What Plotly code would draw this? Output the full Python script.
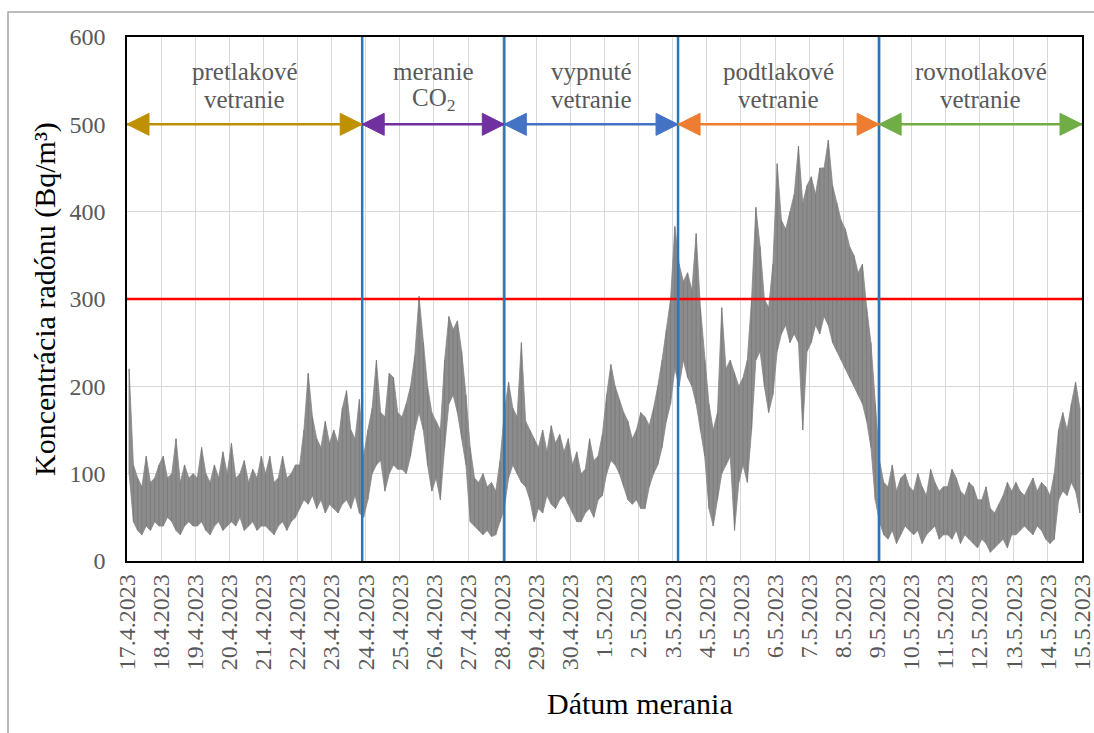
import plotly.graph_objects as go
import pandas as pd

# ---------------- data ----------------
START = "2023-04-17 00:00"
END = "2023-05-15 00:00"
STEP = "3h"   # one high/low pair per 3-hour interval

# upper envelope per 3-hour interval (Bq/m3), 8 values per day 17.4 ... 14.5
high_values = [
    220, 110, 95, 85, 120, 90, 95, 110,      # 17.4
    120, 95, 100, 140, 90, 110, 95, 100,     # 18.4
    95, 130, 100, 90, 110, 95, 125, 100,     # 19.4
    135, 95, 100, 115, 90, 105, 95, 120,     # 20.4
    100, 120, 90, 95, 120, 95, 100, 110,     # 21.4
    110, 150, 215, 165, 140, 130, 160, 135,  # 22.4
    150, 135, 175, 195, 150, 140, 185, 120,  # 23.4
    150, 175, 230, 170, 165, 215, 210, 170,  # 24.4
    165, 180, 200, 235, 303, 250, 200, 170,  # 25.4
    160, 150, 230, 280, 265, 275, 240, 190,  # 26.4
    130, 95, 90, 100, 85, 90, 80, 115,       # 27.4
    170, 205, 175, 165, 250, 160, 150, 140,  # 28.4
    130, 150, 125, 155, 135, 145, 125, 140,  # 29.4
    110, 125, 100, 105, 140, 115, 120, 145,  # 30.4
    190, 225, 200, 185, 170, 160, 140, 150,  # 1.5
    170, 165, 155, 175, 200, 230, 265, 300,  # 2.5
    383, 340, 320, 330, 310, 375, 290, 230,  # 3.5
    180, 150, 170, 290, 220, 230, 215, 200,  # 4.5
    210, 230, 300, 405, 360, 300, 290, 340,  # 5.5
    455, 390, 380, 400, 420, 475, 410, 430,  # 6.5
    440, 420, 450, 450, 482, 430, 410, 390,  # 7.5
    380, 360, 350, 330, 340, 290, 250, 180,  # 8.5
    115, 90, 85, 110, 80, 95, 100, 85,       # 9.5
    80, 100, 85, 75, 105, 90, 80, 85,        # 10.5
    85, 105, 95, 80, 75, 90, 85, 70,         # 11.5
    70, 85, 60, 55, 65, 75, 90, 80,          # 12.5
    90, 80, 75, 85, 95, 80, 90, 85,          # 13.5
    75, 100, 150, 170, 150, 180, 205, 175,   # 14.5
]

# lower envelope per 3-hour interval (Bq/m3)
low_values = [
    100, 45, 35, 30, 40, 35, 45, 40,         # 17.4
    40, 50, 45, 35, 30, 40, 45, 40,          # 18.4
    40, 45, 35, 30, 40, 45, 35, 40,          # 19.4
    45, 40, 50, 35, 40, 45, 35, 40,          # 20.4
    40, 35, 30, 40, 45, 35, 45, 50,          # 21.4
    60, 70, 65, 75, 60, 70, 55, 65,          # 22.4
    60, 55, 65, 70, 60, 75, 55, 50,          # 23.4
    70, 100, 110, 115, 80, 100, 110, 105,    # 24.4
    105, 100, 120, 150, 170, 150, 110, 80,   # 25.4
    95, 70, 130, 180, 190, 170, 140, 110,    # 26.4
    45, 40, 35, 30, 35, 28, 30, 45,          # 27.4
    60, 95, 110, 100, 90, 85, 70, 45,        # 28.4
    60, 55, 75, 65, 60, 70, 75, 65,          # 29.4
    55, 45, 45, 55, 60, 50, 70, 75,          # 30.4
    100, 115, 110, 100, 85, 70, 65, 70,      # 1.5
    60, 60, 85, 100, 110, 130, 160, 180,     # 2.5
    220, 200, 230, 210, 200, 180, 150, 120,  # 3.5
    60, 40, 70, 100, 110, 120, 35, 90,       # 4.5
    110, 90, 150, 230, 240, 200, 170, 190,   # 5.5
    240, 260, 270, 250, 260, 250, 150, 240,  # 6.5
    250, 270, 260, 280, 270, 250, 240, 230,  # 7.5
    220, 210, 200, 190, 180, 160, 130, 70,   # 8.5
    45, 30, 25, 35, 20, 30, 40, 35,          # 9.5
    30, 35, 20, 30, 35, 40, 25, 30,          # 10.5
    30, 25, 35, 20, 30, 25, 20, 15,          # 11.5
    25, 20, 10, 15, 20, 25, 15, 30,          # 12.5
    30, 35, 40, 35, 30, 40, 35, 25,          # 13.5
    20, 25, 70, 80, 75, 90, 80, 55,          # 14.5
]

# ventilation phases: boundaries (blue lines) and labels
phase_bounds = ["2023-04-17 00:00", "2023-04-23 21:30", "2023-04-28 01:30",
                "2023-05-03 03:45", "2023-05-09 01:15", "2023-05-15 00:00"]
phase_line1 = ["pretlakové", "meranie", "vypnuté", "podtlakové", "rovnotlakové"]
phase_line2 = ["vetranie", "CO<sub>2</sub>", "vetranie", "vetranie", "vetranie"]
phase_colors = ["#BF9000", "#7030A0", "#4472C4", "#ED7D31", "#70AD47"]

LIMIT = 300          # reference level (red line)
ARROW_LEVEL = 500    # height of the phase arrows
LABEL_LEVELS = [560, 528]
y_ticks = [0, 100, 200, 300, 400, 500, 600]
x_ticks = pd.date_range(START, END, freq="1D")

X_TITLE = "Dátum merania"
Y_TITLE = "Koncentrácia radónu (Bq/m³)"

# ---------------- figure ----------------
FONT = "Liberation Serif"
GRAY_TXT = "#595959"

starts = pd.date_range(START, periods=len(high_values), freq=STEP)
mid_t = [t + pd.Timedelta(minutes=90) for t in starts]

# vertical low-high strokes for each interval
vx, vy = [], []
for t, hi, lo in zip(mid_t, high_values, low_values):
    vx += [t, t, None]
    vy += [lo, hi, None]

fig = go.Figure()
fig.add_trace(go.Scatter(x=mid_t, y=low_values, mode="lines",
                         line=dict(color="#858585", width=0.8),
                         showlegend=False, hoverinfo="skip"))
fig.add_trace(go.Scatter(x=mid_t, y=high_values, mode="lines", fill="tonexty",
                         fillcolor="#8c8c8c", line=dict(color="#858585", width=0.8),
                         showlegend=False, hoverinfo="skip"))
fig.add_trace(go.Scatter(x=vx, y=vy, mode="lines", connectgaps=False,
                         line=dict(color="#7c7c7c", width=1),
                         showlegend=False, hoverinfo="skip"))

shapes = []
shapes.append(dict(type="line", xref="paper", x0=0, x1=1, yref="y", y0=LIMIT, y1=LIMIT,
                   line=dict(color="#FF0000", width=2.5)))
for b in phase_bounds[1:-1]:
    shapes.append(dict(type="line", xref="x", x0=b, x1=b, yref="paper", y0=0, y1=1,
                       line=dict(color="#2E75B6", width=2.5)))
# double-headed phase arrows: shaft + two triangular heads (pixel-sized)
HEAD_L, HEAD_H = 22, 11
for i, col in enumerate(phase_colors):
    a, b = phase_bounds[i], phase_bounds[i + 1]
    shapes.append(dict(type="line", xref="x", yref="y", x0=a, x1=b,
                       y0=ARROW_LEVEL, y1=ARROW_LEVEL, line=dict(color=col, width=2.5)))
    shapes.append(dict(type="path", xref="x", yref="y",
                       xsizemode="pixel", ysizemode="pixel", xanchor=a, yanchor=ARROW_LEVEL,
                       path=f"M0,0 L{HEAD_L},{HEAD_H} L{HEAD_L},{-HEAD_H} Z",
                       fillcolor=col, line=dict(color=col, width=1)))
    shapes.append(dict(type="path", xref="x", yref="y",
                       xsizemode="pixel", ysizemode="pixel", xanchor=b, yanchor=ARROW_LEVEL,
                       path=f"M0,0 L{-HEAD_L},{HEAD_H} L{-HEAD_L},{-HEAD_H} Z",
                       fillcolor=col, line=dict(color=col, width=1)))
shapes.append(dict(type="rect", xref="paper", yref="paper",
                   x0=(8 - 127) / 955, x1=(1110 - 127) / 955,
                   y0=(561 - 760) / 524, y1=(561 - 12) / 524,
                   line=dict(color="#A6A6A6", width=1.5), fillcolor="rgba(0,0,0,0)",
                   layer="below"))

annotations = []
for i in range(len(phase_line1)):
    a, b = phase_bounds[i], phase_bounds[i + 1]
    mid = pd.Timestamp(a) + (pd.Timestamp(b) - pd.Timestamp(a)) / 2
    for line_txt, lvl in zip([phase_line1[i], phase_line2[i]], LABEL_LEVELS):
        annotations.append(dict(x=mid, y=lvl, xref="x", yref="y", text=line_txt,
                                showarrow=False, xanchor="center", yanchor="middle",
                                font=dict(family=FONT, size=25, color=GRAY_TXT)))

annotations.append(dict(x=(45 - 127) / 955, y=0.5, xref="paper", yref="paper",
                        text=Y_TITLE, textangle=-90, showarrow=False,
                        xanchor="center", yanchor="middle",
                        font=dict(family=FONT, size=30, color="black")))
annotations.append(dict(x=(640 - 127) / 955, y=(561 - 703) / 524, xref="paper", yref="paper",
                        text=X_TITLE, showarrow=False,
                        xanchor="center", yanchor="middle",
                        font=dict(family=FONT, size=30, color="black")))

fig.update_layout(
    width=1094, height=733,
    margin=dict(l=127, r=12, t=37, b=172, autoexpand=False),
    paper_bgcolor="white", plot_bgcolor="white",
    font=dict(family=FONT),
    shapes=shapes, annotations=annotations,
    showlegend=False,
)
fig.update_xaxes(range=[pd.Timestamp(START), pd.Timestamp(END)], type="date", automargin=False,
                 tickmode="array", tickvals=x_ticks,
                 ticktext=[f"{d.day}.{d.month}.{d.year}" for d in x_ticks],
                 tickangle=-90, ticks="", ticklabelstandoff=2, ticklabeloverflow="allow",
                 tickfont=dict(family=FONT, size=24, color=GRAY_TXT),
                 showgrid=True, gridcolor="#D9D9D9", gridwidth=1,
                 showline=True, linecolor="black", linewidth=1.5, mirror=True,
                 zeroline=False)
fig.update_yaxes(range=[0, 600], tickvals=y_ticks, ticks="", ticklabelstandoff=15,
                 automargin=False,
                 tickfont=dict(family=FONT, size=24, color=GRAY_TXT),
                 showgrid=True, gridcolor="#D9D9D9", gridwidth=1,
                 showline=True, linecolor="black", linewidth=1.5, mirror=True,
                 zeroline=False)

fig.write_html("out.html", config={"displayModeBar": False})
